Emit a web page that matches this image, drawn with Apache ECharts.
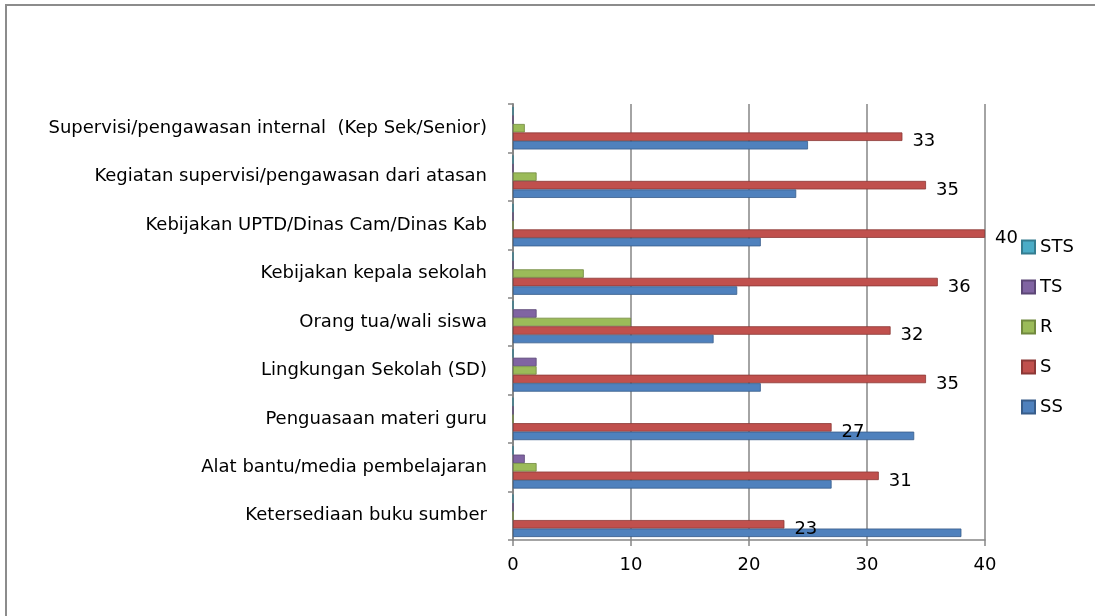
<!DOCTYPE html>
<html>
<head>
<meta charset="utf-8">
<script src="https://cdn.jsdelivr.net/npm/echarts@6/dist/echarts.min.js"></script>
<style>
html,body{margin:0;padding:0;background:#fff;}
#frame{position:absolute;left:5px;top:4px;width:1100px;height:620px;border-left:2px solid #8c8c8c;border-top:2px solid #8c8c8c;}
#chart{position:absolute;left:0;top:0;width:1095px;height:616px;}
</style>
</head>
<body>
<div id="frame"></div>
<div id="chart"></div>
<script>
// Categories listed top to bottom as in the picture
const categories = [
  "Supervisi/pengawasan internal  (Kep Sek/Senior)",
  "Kegiatan supervisi/pengawasan dari atasan",
  "Kebijakan UPTD/Dinas Cam/Dinas Kab",
  "Kebijakan kepala sekolah",
  "Orang tua/wali siswa",
  "Lingkungan Sekolah (SD)",
  "Penguasaan materi guru",
  "Alat bantu/media pembelajaran",
  "Ketersediaan buku sumber"
];
const seriesNames = ["STS", "TS", "R", "S", "SS"];
const STS = [0, 0, 0, 0, 0, 0, 0, 0, 0];
const TS  = [0, 0, 0, 0, 2, 2, 0, 1, 0];
const R   = [1, 2, 0, 6, 10, 2, 0, 2, 0];
const S   = [33, 35, 40, 36, 32, 35, 27, 31, 23];
const SS  = [25, 24, 21, 19, 17, 21, 34, 27, 38];
const xTicks = [0, 10, 20, 30, 40];

const colors = {STS: "#4BACC6", TS: "#8064A2", R: "#9BBB59", S: "#C0504D", SS: "#4F81BD"};
const borders = {STS: "#357d90", TS: "#5c4776", R: "#71893f", S: "#8c3836", SS: "#385d8a"};
const values = {STS, TS, R, S, SS};

const FONT = "DejaVu Sans";
const FS = 18;
const chart = echarts.init(document.getElementById('chart'));
chart.setOption({
  animation: false,
  textStyle: {fontFamily: FONT},
  grid: {left: 513, right: 110, top: 104, bottom: 76},
  legend: {
    orient: 'vertical',
    left: 1016, top: 233,
    itemWidth: 13, itemHeight: 13, itemGap: 22,
    icon: 'rect',
    textStyle: {fontSize: FS, lineHeight: 18, color: '#000', fontFamily: FONT},
    data: seriesNames
  },
  xAxis: {
    type: 'value', min: xTicks[0], max: xTicks[xTicks.length - 1], interval: 10,
    axisLine: {show: true, lineStyle: {color: '#868686', width: 1.5}},
    axisTick: {show: true, length: 6, lineStyle: {color: '#868686', width: 1.5}},
    axisLabel: {fontSize: FS, color: '#000', margin: 16, fontFamily: FONT},
    splitLine: {show: true, lineStyle: {color: '#868686', width: 1.5}}
  },
  yAxis: {
    type: 'category', inverse: true, data: categories,
    axisLine: {show: true, lineStyle: {color: '#868686', width: 2}},
    axisTick: {show: true, length: 5, lineStyle: {color: '#868686', width: 1.5}},
    axisLabel: {fontSize: FS, color: '#000', margin: 26, fontFamily: FONT}
  },
  series: seriesNames.map(n => ({
    name: n, type: 'bar',
    data: values[n],
    barWidth: 8.5, barGap: '0%',
    itemStyle: {color: colors[n], borderColor: borders[n], borderWidth: 0.8},
    label: n === 'S' ? {show: true, position: 'right', distance: 10, offset: [0, 5], fontSize: FS, color: '#000', fontFamily: FONT} : {show: false}
  }))
});
</script>
</body>
</html>
